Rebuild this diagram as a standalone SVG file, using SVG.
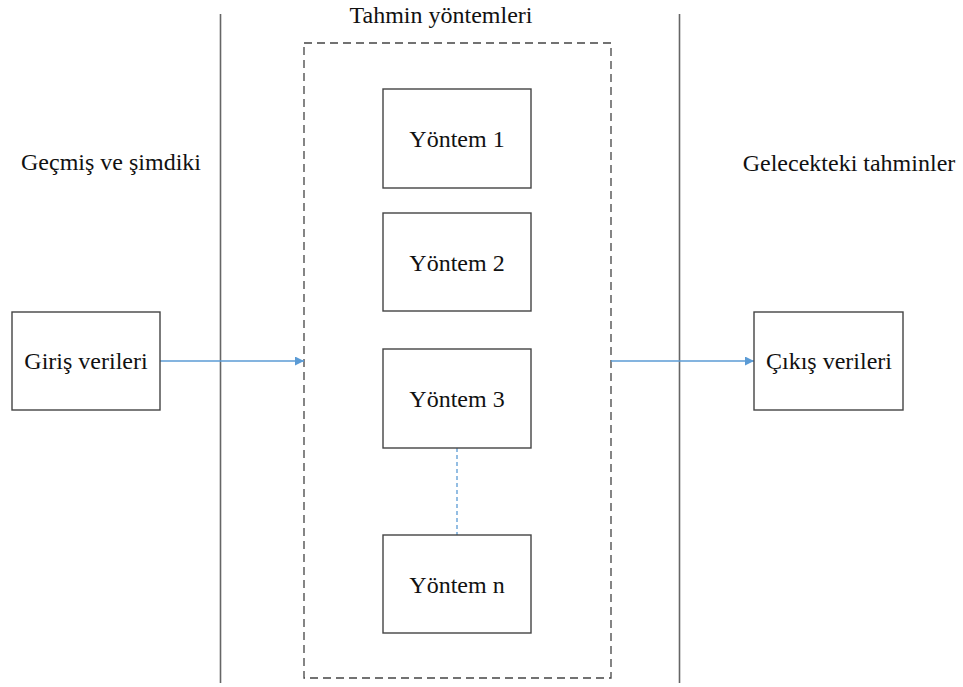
<svg xmlns="http://www.w3.org/2000/svg" width="963" height="687" viewBox="0 0 963 687">
  <style>
    .lbl { font-family: "Liberation Serif", "Times New Roman", serif; font-size: 24px; fill: #111; text-anchor: middle; }
    .box { fill: #fff; stroke: #444; stroke-width: 1.4; }
    .sep { stroke: #666; stroke-width: 1.6; fill: none; }
    .group { fill: none; stroke: #444; stroke-width: 1.3; stroke-dasharray: 8 5; }
    .flow { stroke: #5b9bd5; stroke-width: 1.4; fill: none; }
    .link { stroke: #5b9bd5; stroke-width: 1.3; fill: none; stroke-dasharray: 4 3; }
  </style>
  <defs>
    <marker id="arrow" viewBox="0 0 10 10" refX="10" refY="5" markerWidth="9" markerHeight="9" markerUnits="userSpaceOnUse" orient="auto">
      <path d="M0,0 L10,5 L0,10 z" fill="#5b9bd5"/>
    </marker>
  </defs>
  <rect width="963" height="687" fill="#fff"/>

  <!-- separators between past, methods and future -->
  <g id="separators">
    <line class="sep" x1="220.5" y1="14" x2="220.5" y2="683"/>
    <line class="sep" x1="679.5" y1="14" x2="679.5" y2="683"/>
  </g>

  <!-- section headings -->
  <g id="headings">
    <text class="lbl" x="111" y="170">Geçmiş ve şimdiki</text>
    <text class="lbl" x="441" y="23">Tahmin yöntemleri</text>
    <text class="lbl" x="849" y="171">Gelecekteki tahminler</text>
  </g>

  <!-- methods container -->
  <g id="methods">
    <rect class="group" x="304" y="43" width="307" height="635"/>
  </g>

  <g id="connectors">
    <line class="flow" x1="160" y1="361" x2="304" y2="361" marker-end="url(#arrow)"/>
    <line class="flow" x1="611" y1="361" x2="754" y2="361" marker-end="url(#arrow)"/>
    <line class="link" x1="457" y1="448" x2="457" y2="535"/>
  </g>

  <g id="input">
    <rect class="box" x="12" y="312" width="148" height="98"/>
    <text class="lbl" x="86" y="369">Giriş verileri</text>
  </g>

  <g id="output">
    <rect class="box" x="754" y="312" width="149" height="98"/>
    <text class="lbl" x="829" y="369">Çıkış verileri</text>
  </g>

  <g id="method1">
    <rect class="box" x="383" y="89" width="148" height="99"/>
    <text class="lbl" x="457" y="147">Yöntem 1</text>
  </g>

  <g id="method2">
    <rect class="box" x="383" y="213" width="148" height="98"/>
    <text class="lbl" x="457" y="271">Yöntem 2</text>
  </g>

  <g id="method3">
    <rect class="box" x="383" y="349" width="148" height="99"/>
    <text class="lbl" x="457" y="407">Yöntem 3</text>
  </g>

  <g id="methodn">
    <rect class="box" x="383" y="535" width="148" height="98"/>
    <text class="lbl" x="457" y="593">Yöntem n</text>
  </g>
</svg>
